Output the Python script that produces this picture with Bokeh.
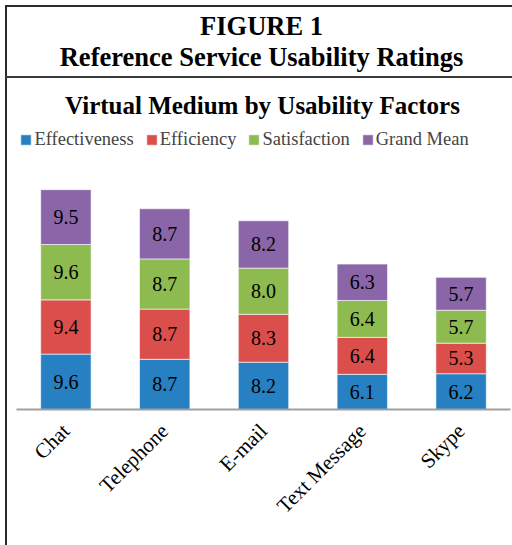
import math
import numpy as np
from bokeh.plotting import figure
from bokeh.models import (ColumnDataSource, Range1d, FactorRange, Label, Legend,
                          LegendItem, InlineStyleSheet)
from bokeh.core.properties import value
from bokeh.embed import file_html
from bokeh.resources import INLINE

# ---- data ----
media = ["Chat", "Telephone", "E-mail", "Text Message", "Skype"]
factors = ["Effectiveness", "Efficiency", "Satisfaction", "Grand Mean"]
effectiveness = [9.6, 8.7, 8.2, 6.1, 6.2]
efficiency = [9.4, 8.7, 8.3, 6.4, 5.3]
satisfaction = [9.6, 8.7, 8.0, 6.4, 5.7]
grand_mean = [9.5, 8.7, 8.2, 6.3, 5.7]
colors = ["#2680C2", "#DA4F4B", "#8DBB50", "#8A66A8"]

W, H = 512, 545
FRAME_LEFT = 16
FRAME_BOTTOM = 409

SERIF = "Liberation Serif"

p = figure(x_range=FactorRange(*media, range_padding=0), y_range=Range1d(0, 409 / 5.77),
           width=W, height=H, output_backend="svg", toolbar_location=None, title=None,
           y_axis_location=None,
           min_border_left=FRAME_LEFT, min_border_right=2, min_border_top=0,
           min_border_bottom=H - FRAME_BOTTOM)
p.outline_line_color = None
p.xgrid.visible = False
p.ygrid.visible = False
p.background_fill_color = "white"
p.border_fill_color = "white"

src = ColumnDataSource(dict(media=media, Effectiveness=effectiveness, Efficiency=efficiency,
                            Satisfaction=satisfaction, **{"Grand Mean": grand_mean}))
renderers = p.vbar_stack(factors, x="media", width=0.51, fill_color=colors,
                         line_color="white", line_width=1, line_alpha=0.6, source=src)

stack = np.array([effectiveness, efficiency, satisfaction, grand_mean])
mids = np.cumsum(stack, axis=0) - stack / 2
lab = ColumnDataSource(dict(
    x=[m for _ in factors for m in media],
    y=mids.flatten().tolist(),
    t=[f"{v:.1f}" for v in stack.flatten()]))
p.text(x="x", y="y", text="t", source=lab, text_align="center", text_baseline="middle",
       text_font=value(SERIF), text_font_size="20px", text_color="black")

# axis
ax = p.xaxis[0]
ax.major_label_orientation = math.pi / 4
ax.major_label_text_font = SERIF
ax.major_label_text_font_size = "21px"
ax.major_label_text_color = "black"
ax.major_tick_line_color = None
ax.minor_tick_line_color = None
ax.axis_line_color = "#a0a0a0"
ax.axis_line_width = 2
ax.major_label_standoff = 12

# legend
legend = Legend(items=[LegendItem(label=f, renderers=[r]) for f, r in zip(factors, renderers)],
                orientation="horizontal", location=(19.4 - FRAME_LEFT, FRAME_BOTTOM - 139.7 - 10),
                label_text_font=SERIF, label_text_font_size="18.5px",
                glyph_width=13, glyph_height=13, label_standoff=2, spacing=11,
                padding=0, margin=0, border_line_color=None, background_fill_alpha=0)
p.add_layout(legend)

# titles (middle baseline; alphabetic baseline sits 0.3375 em below the middle)
def add_title(text, cx, baseline, size):
    mid = baseline - 0.3375 * size
    p.add_layout(Label(x=cx - FRAME_LEFT, y=FRAME_BOTTOM - mid, x_units="screen", y_units="screen",
                       text=text, text_font=SERIF, text_font_style="bold",
                       text_font_size=f"{size}px", text_align="center", text_baseline="middle",
                       text_color="black"))

add_title("FIGURE 1", 261, 34.3, 26.5)
add_title("Reference Service Usability Ratings", 261, 65, 26.5)
add_title("Virtual Medium by Usability Factors", 262, 113.3, 25)

# outer frame lines of the figure box (decoration)
p.stylesheets = [InlineStyleSheet(css="""
:host::before { content: ""; position: absolute; left: 4.5px; top: 4.5px; width: 508px; height: 541px;
  border-left: 2px solid #2b2b2b; border-top: 2px solid #2b2b2b; box-sizing: border-box;
  pointer-events: none; z-index: 100; }
:host::after { content: ""; position: absolute; left: 4.5px; top: 76px; width: 508px; height: 2px;
  background: #3a3a3a; pointer-events: none; z-index: 100; }
""")]

open("out.html", "w").write(file_html(p, INLINE))
